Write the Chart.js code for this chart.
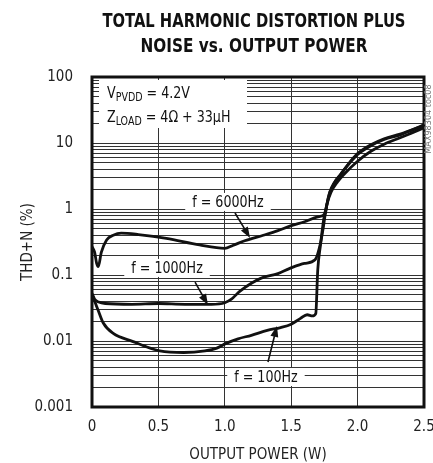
<!DOCTYPE html>
<html>
<head>
<meta charset="utf-8">
<script src="https://cdn.jsdelivr.net/npm/chart.js@4.4.1/dist/chart.umd.min.js"></script>
<style>
  html, body { margin: 0; padding: 0; background: #fff; }
  #chart { display: block; }
</style>
</head>
<body>
<canvas id="chart" width="433" height="463"></canvas>
<script>
// Axis ticks
const xTicks = [0, 0.5, 1.0, 1.5, 2.0, 2.5];
const xTickLabels = ['0', '0.5', '1.0', '1.5', '2.0', '2.5'];
const yDecades = [0.001, 0.01, 0.1, 1, 10, 100];
const yTickLabels = ['0.001', '0.01', '0.1', '1', '10', '100'];

// f = 6000Hz
const power6000 = [0, 0.02, 0.035, 0.047, 0.07, 0.11, 0.16, 0.22, 0.35, 0.56, 0.81, 1.0, 1.06, 1.15, 1.29, 1.4, 1.49, 1.6, 1.7, 1.755, 1.77, 1.79, 1.83, 1.87, 1.93, 2.0, 2.1, 2.2, 2.32, 2.4, 2.5];
const thd6000 = [0.27, 0.22, 0.15, 0.134, 0.22, 0.34, 0.40, 0.43, 0.41, 0.36, 0.285, 0.254, 0.28, 0.33, 0.40, 0.47, 0.55, 0.64, 0.76, 0.85, 1.2, 1.8, 2.6, 3.3, 4.8, 6.9, 9.4, 11.6, 13.6, 15.6, 18.8];

// f = 1000Hz
const power1000 = [0, 0.02, 0.05, 0.1, 0.3, 0.5, 0.7, 0.9, 1.0, 1.05, 1.11, 1.2, 1.27, 1.4, 1.49, 1.6, 1.68, 1.72, 1.74, 1.755, 1.78, 1.82, 1.87, 1.93, 2.0, 2.1, 2.2, 2.32, 2.4, 2.5];
const thd1000 = [0.053, 0.043, 0.039, 0.037, 0.036, 0.037, 0.036, 0.036, 0.038, 0.043, 0.056, 0.075, 0.089, 0.105, 0.126, 0.15, 0.17, 0.3, 0.5, 0.8, 1.5, 2.4, 3.3, 4.7, 6.7, 9.1, 11.3, 13.3, 15.4, 18.5];

// f = 100Hz
const power100 = [0, 0.02, 0.047, 0.085, 0.16, 0.31, 0.4, 0.51, 0.69, 0.85, 0.94, 1.01, 1.1, 1.2, 1.32, 1.42, 1.5, 1.57, 1.62, 1.66, 1.685, 1.70, 1.72, 1.745, 1.77, 1.8, 1.85, 1.9, 2.0, 2.1, 2.2, 2.32, 2.4, 2.5];
const thd100 = [0.05, 0.04, 0.029, 0.0187, 0.013, 0.0098, 0.0083, 0.0071, 0.0067, 0.0071, 0.0078, 0.0092, 0.0108, 0.0122, 0.0145, 0.016, 0.018, 0.022, 0.025, 0.024, 0.026, 0.12, 0.28, 0.7, 1.2, 1.8, 2.6, 3.4, 5.3, 7.5, 9.6, 12, 14, 17];

// Curve labels: [text, label x (W), label y (%), arrow from x, from y, arrow tip x, tip y]
const curveLabels = [
    ['f = 6000Hz', 1.024, 1.28, 1.077, 0.87, 1.19, 0.364],
    ['f = 1000Hz', 0.565, 0.128, 0.776, 0.078, 0.873, 0.035],
    ['f = 100Hz', 1.31, 0.00285, 1.325, 0.0048, 1.393, 0.0169]
];

const FONT = "'Liberation Sans Narrow', 'DejaVu Sans Condensed', 'Roboto Condensed', sans-serif";
const INK = '#111';
const SQUEEZE = 0.88; // horizontal squeeze for annotation text

function points(xs, ys) {
    return xs.map((x, i) => ({ x: x, y: ys[i] }));
}

function squeezedText(ctx, text, x, y, k) {
    ctx.save();
    ctx.translate(x, y);
    ctx.scale(k, 1);
    ctx.fillText(text, 0, 0);
    ctx.restore();
    return ctx.measureText(text).width * k;
}

function drawArrow(ctx, x0, y0, x1, y1) {
    const a = Math.atan2(y1 - y0, x1 - x0);
    const len = 11, w = 4;
    ctx.beginPath();
    ctx.moveTo(x0, y0);
    ctx.lineTo(x1 - Math.cos(a) * len * 0.8, y1 - Math.sin(a) * len * 0.8);
    ctx.lineWidth = 1.6;
    ctx.strokeStyle = INK;
    ctx.stroke();
    ctx.beginPath();
    ctx.moveTo(x1, y1);
    ctx.lineTo(x1 - Math.cos(a) * len + Math.sin(a) * w, y1 - Math.sin(a) * len - Math.cos(a) * w);
    ctx.lineTo(x1 - Math.cos(a) * len - Math.sin(a) * w, y1 - Math.sin(a) * len + Math.cos(a) * w);
    ctx.closePath();
    ctx.fillStyle = INK;
    ctx.fill();
}

// text with a subscript part: [main, sub, rest]
function drawSubText(ctx, x, y, parts) {
    ctx.textAlign = 'left';
    ctx.textBaseline = 'alphabetic';
    ctx.font = '16px ' + FONT;
    x += squeezedText(ctx, parts[0], x, y, SQUEEZE);
    ctx.font = '12px ' + FONT;
    x += squeezedText(ctx, parts[1], x, y + 3, SQUEEZE);
    ctx.font = '16px ' + FONT;
    squeezedText(ctx, parts[2], x, y, SQUEEZE);
}

const annotatePlugin = {
    id: 'annotate',
    beforeDatasetsDraw(chart) {
        const ctx = chart.ctx, xs = chart.scales.x, ys = chart.scales.y, area = chart.chartArea;
        ctx.save();
        ctx.fillStyle = '#fff';
        // conditions box
        ctx.fillRect(area.left + 7, area.top + 3, 148, 48);
        // label boxes
        ctx.font = '16px ' + FONT;
        curveLabels.forEach(l => {
            const w = ctx.measureText(l[0]).width * SQUEEZE + 14;
            ctx.fillRect(xs.getPixelForValue(l[1]) - w / 2, ys.getPixelForValue(l[2]) - 9, w, 18);
        });
        ctx.restore();
    },
    afterDatasetsDraw(chart) {
        const ctx = chart.ctx, xs = chart.scales.x, ys = chart.scales.y, area = chart.chartArea;
        ctx.save();
        // frame
        ctx.lineWidth = 3;
        ctx.strokeStyle = INK;
        ctx.strokeRect(area.left, area.top, area.right - area.left, area.bottom - area.top);

        ctx.fillStyle = INK;
        drawSubText(ctx, area.left + 15, area.top + 21, ['V', 'PVDD', ' = 4.2V']);
        drawSubText(ctx, area.left + 15, area.top + 45, ['Z', 'LOAD', ' = 4\u03A9 + 33\u03BCH']);

        ctx.font = '16px ' + FONT;
        ctx.textAlign = 'center';
        ctx.textBaseline = 'middle';
        curveLabels.forEach(l => {
            ctx.fillStyle = INK;
            squeezedText(ctx, l[0], xs.getPixelForValue(l[1]), ys.getPixelForValue(l[2]) + 1, SQUEEZE);
            drawArrow(ctx, xs.getPixelForValue(l[3]), ys.getPixelForValue(l[4]),
                xs.getPixelForValue(l[5]), ys.getPixelForValue(l[6]));
        });

        // figure id on the right edge
        ctx.translate(area.right + 5, area.top + 42);
        ctx.rotate(-Math.PI / 2);
        ctx.font = '9px ' + FONT;
        ctx.fillStyle = '#777';
        ctx.fillText('MAX98304 toc08', 0, 0);
        ctx.restore();
    },
    afterDraw(chart) {
        const ctx = chart.ctx;
        const titleLines = [['TOTAL HARMONIC DISTORTION PLUS', 303, 22], ['NOISE vs. OUTPUT POWER', 227, 47]];
        ctx.save();
        ctx.font = 'bold 20px ' + FONT;
        ctx.textAlign = 'center';
        ctx.textBaseline = 'middle';
        ctx.fillStyle = INK;
        titleLines.forEach(t => {
            const k = t[1] / ctx.measureText(t[0]).width;
            squeezedText(ctx, t[0], 254, t[2], k);
        });
        ctx.restore();
    }
};

new Chart(document.getElementById('chart').getContext('2d'), {
    type: 'line',
    data: {
        datasets: [
            { label: 'f = 6000Hz', data: points(power6000, thd6000) },
            { label: 'f = 1000Hz', data: points(power1000, thd1000) },
            { label: 'f = 100Hz', data: points(power100, thd100) }
        ].map(d => Object.assign(d, {
            borderColor: INK,
            borderWidth: 2.8,
            pointRadius: 0,
            fill: false,
            cubicInterpolationMode: 'monotone'
        }))
    },
    options: {
        responsive: false,
        animation: false,
        layout: { padding: { top: 77, right: 9, left: 0, bottom: 0 } },
        plugins: {
            legend: { display: false },
            tooltip: { enabled: false }
        },
        scales: {
            x: {
                type: 'linear',
                min: 0,
                max: 2.5,
                afterBuildTicks: scale => { scale.ticks = xTicks.map(v => ({ value: v })); },
                afterFit: scale => {
                    scale.height = 56;
                    scale.paddingLeft = 0;
                    scale.paddingRight = 0;
                },
                ticks: {
                    autoSkip: false,
                    maxRotation: 0,
                    padding: 11,
                    color: '#222',
                    font: { family: FONT, size: 15 },
                    callback: (v, i) => xTickLabels[i]
                },
                grid: { color: '#333', lineWidth: 1, drawTicks: false },
                border: { display: false },
                title: {
                    display: true,
                    text: 'OUTPUT POWER (W)',
                    color: '#222',
                    font: { family: FONT, size: 15, lineHeight: 1 },
                    padding: { top: 0, bottom: 0 }
                }
            },
            y: {
                type: 'logarithmic',
                min: 0.001,
                max: 100,
                afterBuildTicks: scale => {
                    const t = [];
                    yDecades.forEach((d, i) => {
                        const n = i < yDecades.length - 1 ? 9 : 1;
                        for (let m = 1; m <= n; m++) t.push({ value: d * m });
                    });
                    scale.ticks = t;
                },
                afterFit: scale => { scale.width = 92; },
                ticks: {
                    autoSkip: false,
                    padding: 19,
                    color: '#222',
                    font: { family: FONT, size: 15 },
                    callback: v => {
                        const i = yDecades.findIndex(d => Math.abs(d - v) / d < 1e-6);
                        return i >= 0 ? yTickLabels[i] : '';
                    }
                },
                grid: { color: '#333', lineWidth: 1, drawTicks: false },
                border: { display: false },
                title: {
                    display: true,
                    text: 'THD+N (%)',
                    color: '#222',
                    font: { family: FONT, size: 15, lineHeight: 1 },
                    padding: { top: 21, bottom: 0 }
                }
            }
        }
    },
    plugins: [annotatePlugin]
});
</script>
</body>
</html>
